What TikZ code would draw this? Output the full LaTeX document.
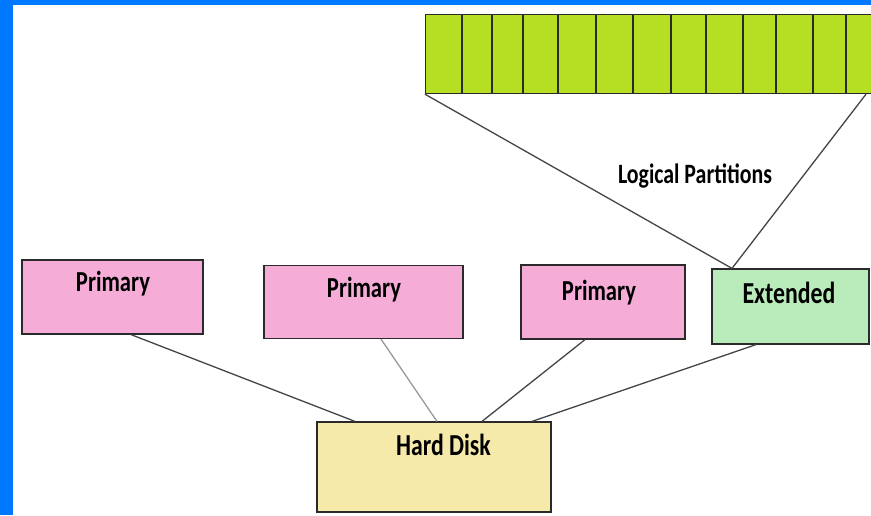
\documentclass[tikz,border=0pt]{standalone}
\usepackage{fontspec}
\newfontfamily\lblfont{Carlito}[FakeStretch=0.78]
\definecolor{frameblue}{HTML}{0078FF}
\definecolor{cellgreen}{HTML}{B6DE22}
\definecolor{primpink}{HTML}{F5ADD8}
\definecolor{extgreen}{HTML}{B9EBBB}
\definecolor{diskyellow}{HTML}{F6EAAA}
\definecolor{edgegray}{HTML}{2A2A2A}
\definecolor{wiregray}{HTML}{454545}
\tikzset{
  partbox/.style={draw=edgegray, line width=1.2pt, inner sep=0pt, minimum width=#1},
  lbl/.style={anchor=base, inner sep=0pt, font=\lblfont\bfseries\fontsize{29}{32}\selectfont},
  wire/.style={draw=wiregray, line width=1.3pt},
}
\begin{document}
\begin{tikzpicture}[x=1pt,y=-1pt]
\useasboundingbox (0,0) rectangle (871,515);
\clip (0,0) rectangle (871,515);
\fill[white] (0,0) rectangle (871,515);
% blue frame on the left and top
\fill[frameblue] (0,0) rectangle (13,515);
\fill[frameblue] (0,0) rectangle (871,5);

% strip of logical partitions
\node[partbox=460pt, minimum height=79pt, fill=cellgreen, anchor=north west] (bar) at (425,14) {};
\foreach \cx in {462,492,523,558,596,633,671,706,743,776,813,846}
  \draw[edgegray, line width=1.2pt] (\cx,14) -- (\cx,93);

% partitions
\node[partbox=181pt, minimum height=74pt, fill=primpink] (p1) at (112.5,297) {};
\node[partbox=199pt, minimum height=73pt, fill=primpink] (p2) at (363.5,302) {};
\node[partbox=164pt, minimum height=74pt, fill=primpink] (p3) at (603,302) {};
\node[partbox=157pt, minimum height=75pt, fill=extgreen] (ext) at (790.5,306.5) {};
\node[partbox=234pt, minimum height=90pt, fill=diskyellow] (hd) at (434,467) {};

% labels
\node[lbl] (t1) at (113,291.5) {Primary};
\node[lbl] (t2) at (364,297) {Primary};
\node[lbl] (t3) at (599,300) {Primary};
\node[lbl, font=\lblfont\bfseries\fontsize{30.5}{33}\selectfont] (t4) at (789,303) {Extended};
\node[lbl, font=\lblfont\bfseries\fontsize{30.5}{33}\selectfont] (t5) at (443.5,455) {Hard Disk};
\node[lbl, font=\lblfont\bfseries\fontsize{28}{31}\selectfont] (t6) at (695,183) {Logical Partitions};

% extended partition fans out into the logical strip
\coordinate (apex) at ([xshift=-58.5pt]ext.north);
\draw[wire] (bar.south west) -- (apex);
\draw[wire] ([xshift=441pt]bar.south west) -- (apex);

% partitions hang off the disk
\draw[wire] ([xshift=18.5pt]p1.south) -- ([xshift=-79pt]hd.north);
\draw[wire, draw=gray!80] ([xshift=17.5pt]p2.south) -- ([xshift=3pt]hd.north);
\draw[wire] ([xshift=-18pt]p3.south) -- ([xshift=48pt]hd.north);
\draw[wire] ([xshift=-34.5pt]ext.south) -- ([xshift=98pt]hd.north);
\end{tikzpicture}
\end{document}
